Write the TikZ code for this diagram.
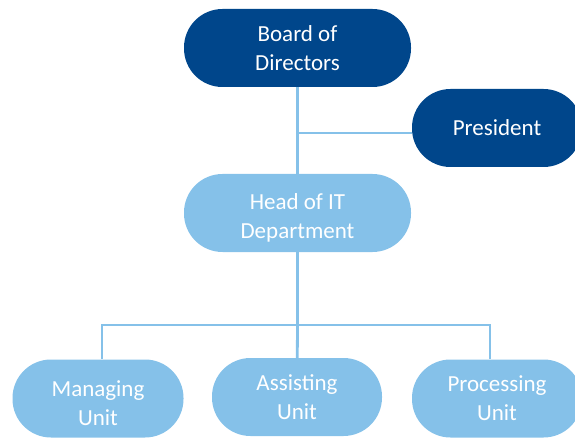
\documentclass[tikz,border=0pt]{standalone}
\usepackage{fontspec}
\setmainfont{Carlito}
\usetikzlibrary{positioning,backgrounds}
\definecolor{boardblue}{RGB}{0,70,139}
\definecolor{deptblue}{RGB}{133,193,233}
\newcommand{\sinkline}{\rule{0pt}{25pt}}
\tikzset{
    orgbox/.style={rectangle, rounded corners=38.5pt, minimum height=78pt,
        inner sep=0pt, text=white, align=center,
        font=\fontsize{23}{29}\selectfont},
    exec/.style={orgbox, fill=boardblue},
    dept/.style={orgbox, fill=deptblue},
    link/.style={draw=deptblue, line width=2.8pt},
}
\begin{document}
\begin{tikzpicture}[x=1pt,y=-1pt]
    \useasboundingbox (0,0) rectangle (575,438);
    % boxes
    \node[exec, minimum width=227pt] (board) at (297.5,48) {Board of\\Directors};
    \node[exec, minimum width=170pt] (pres) at (497,128) {President};
    \node[dept, minimum width=227pt] (head) at (297.5,213) {\sinkline Head of IT\\Department};
    \node[dept, minimum width=171pt] (manage) at (98,398.5) {\sinkline Managing\\Unit};
    \node[dept, minimum width=170pt] (assist) at (297,397) {Assisting\\Unit};
    \node[dept, minimum width=170pt] (process) at (497,398.5) {Processing\\Unit};
    % junctions
    \coordinate (pj) at (297.5,133);
    \coordinate (hub) at (297.5,325);
    % links behind the boxes
    \begin{scope}[on background layer]
        \path[link] (board) -- (head);
        \path[link] (pj) -- (pj -| pres.west);
        \path[link] (head) -- (hub);
        \path[link] (hub) -| ([xshift=4pt]manage.north);
        \path[link] (hub) -| ([xshift=-7pt]process.north);
        \path[link] (hub) -- (assist);
    \end{scope}
\end{tikzpicture}
\end{document}
